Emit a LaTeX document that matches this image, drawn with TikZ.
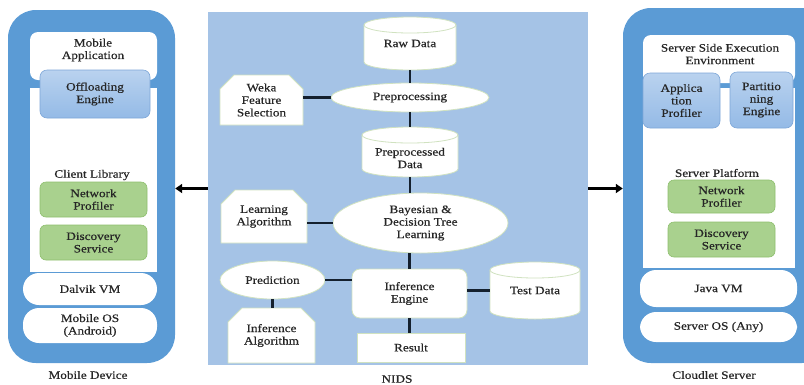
\documentclass[tikz,border=0pt]{standalone}
\usepackage{fontspec}
\setmainfont{Liberation Serif}[FakeStretch=1.17,FakeBold=0.5]
\usetikzlibrary{shapes.geometric,shapes.misc,arrows.meta,calc}
\definecolor{devblue}{HTML}{5B9BD5}
\definecolor{nidsbg}{HTML}{A5C3E6}
\definecolor{offl}{HTML}{94BAE6}
\definecolor{offlb}{HTML}{7EA7D8}
\definecolor{grn}{HTML}{A9D18E}
\definecolor{grnb}{HTML}{8EBF6E}
\definecolor{wedge}{HTML}{D0E2C0}
\definecolor{conn}{HTML}{14202E}
\newcommand\mynode[7]{\node[#1, minimum width={#5-#3}, minimum height={#6-#4}] (#2) at ({(#3+#5)/2},{(#4+#6)/2}) {#7};}
\newcommand\mycyl[8]{%
  \pgfmathsetmacro\cxa{(#2+#4)/2}%
  \pgfmathsetmacro\rxa{(#4-#2)/2}%
  \filldraw[fill=white, draw=wedge, line width=0.8pt] (#2,#3+#6) -- (#2,#5-#6) arc[start angle=180,end angle=0,x radius=\rxa,y radius=#6] -- (#4,#3+#6) arc[start angle=0,end angle=-180,x radius=\rxa,y radius=#6] -- cycle;
  \draw[draw=wedge, line width=0.8pt] (#2,#3+#6) arc[start angle=180,end angle=0,x radius=\rxa,y radius=#6];
  \node[minimum width={#4-#2}, minimum height={#5-#3}] (#1) at (\cxa,{(#3+#5)/2}) {};
  \node (#1txt) at (\cxa,{(#3+#5)/2+#8}) {#7};
}
\begin{document}
\begin{tikzpicture}[x=1pt,y=-1pt,
  every node/.style={font=\fontsize{11.3}{12.5}\selectfont, text=black!85, align=center, inner sep=0pt},
  device/.style={fill=devblue, rounded corners=28pt},
  wbox/.style={fill=white, rounded corners=8pt},
  wrect/.style={fill=white},
  pill/.style={fill=white, rounded corners=16pt},
  bluebox/.style={top color=offl!65!white, bottom color=offl, draw=offlb, line width=0.6pt, rounded corners=7pt},
  greenbox/.style={fill=grn, draw=grnb, line width=0.6pt, rounded corners=6pt},
  nidsw/.style={fill=white, draw=wedge, line width=0.8pt},
  ell/.style={nidsw, ellipse},
  snip/.style={nidsw, chamfered rectangle, chamfered rectangle corners={north west,north east}, chamfered rectangle xsep=7pt, chamfered rectangle ysep=7pt},
  link/.style={draw=conn, line width=2.4pt},
  bigarrow/.style={draw=black, line width=2.6pt, -{Triangle[length=7pt,width=9pt]}}
]
\useasboundingbox (0,0) rectangle (804,384);
\clip (0,0) rectangle (804,384);

% ---------- Mobile device ----------
\mynode{device}{mob}{8}{10}{175}{363}{}
\mynode{wbox}{mobapp}{30}{32}{157}{80}{}
\node (mobapptxt) at (93,50) {Mobile\\Application};
\mynode{wrect}{clib}{30}{88}{157}{272}{}
\mynode{bluebox}{offeng}{40}{70}{150}{118}{Offloading\\Engine}
\node (clibtxt) at (92,175) {Client Library};
\mynode{greenbox}{netp}{40}{182}{147}{217}{Network\\Profiler}
\mynode{greenbox}{disc}{40}{225}{147}{260}{Discovery\\Service}
\mynode{pill}{dalvik}{23}{273}{157}{305}{Dalvik VM}
\mynode{pill}{mos}{23}{308}{157}{343}{Mobile OS\\(Android)}
\node (mobdev) at (88,375) {Mobile Device};

% ---------- Cloudlet server ----------
\mynode{device}{srv}{623}{8}{830}{363}{}
\mynode{wbox}{sse}{643}{35}{795}{83}{}
\node (ssetxt) at (720,54) {Server Side Execution\\Environment};
\mynode{wrect}{splat}{643}{88}{795}{268}{}
\mynode{bluebox}{appp}{643}{73}{720}{128}{Applica\\tion\\Profiler}
\mynode{bluebox}{parte}{730}{72}{793}{128}{Partitio\\ning\\Engine}
\node (splattxt) at (717,173) {Server Platform};
\mynode{greenbox}{netp2}{668}{180}{775}{213}{Network\\Profiler}
\mynode{greenbox}{disc2}{668}{222}{775}{257}{Discovery\\Service}
\mynode{pill}{jvm}{640}{270}{797}{307}{Java VM}
\mynode{pill}{sos}{640}{312}{797}{342}{Server OS (Any)}
\node (cls) at (714,375) {Cloudlet Server};

% ---------- NIDS ----------
\mynode{fill=nidsbg}{nids}{208}{12}{588}{365}{}
\mycyl{raw}{364}{17}{456}{70}{8}{Raw Data}{0}
\mynode{ell}{prep}{331}{83}{489}{112}{Preprocessing}
\mynode{snip}{weka}{220}{75}{303}{125}{Weka\\Feature\\Selection}
\mycyl{ppd}{362}{127}{458}{177}{8}{Preprocessed\\Data}{6}
\mynode{ell}{bayes}{333}{193}{508}{253}{Bayesian \&\\Decision Tree\\Learning}
\mynode{snip}{learn}{221}{190}{307}{243}{Learning\\Algorithm}
\mynode{nidsw, rounded corners=8pt}{infe}{352}{269}{467}{318}{Inference\\Engine}
\mynode{ell}{pred}{220}{261}{325}{299}{Prediction}
\mynode{snip}{infa}{228}{308}{315}{363}{Inference\\Algorithm}
\mycyl{test}{490}{262}{580}{319}{8}{Test Data}{0}
\mynode{nidsw}{res}{357}{333}{465}{362}{Result}
\node (nidslbl) at (397,379) {NIDS};

% connectors
\draw[link] (raw.south) -- (prep.north);
\draw[link] (prep.south) -- (ppd.north);
\draw[link] (ppd.south) -- (ppd.south |- bayes.north);
\draw[link] (weka.east |- prep.west) -- (prep.west);
\draw[link] (learn.east |- bayes.west) -- (bayes.west);
\draw[link] (infe.north |- bayes.south) -- (infe.north);
\draw[link] (pred.east) -- (pred.east -| infe.west);
\draw[link] (pred.south) -- (pred.south |- infa.north);
\draw[link] (infe.east |- test.west) -- (test.west);
\draw[link] (infe.south) -- (infe.south |- res.north);

% big arrows
\draw[bigarrow] (nids.west) -- (nids.west -| mob.east);
\draw[bigarrow] (nids.east) -- (nids.east -| srv.west);
\end{tikzpicture}
\end{document}
